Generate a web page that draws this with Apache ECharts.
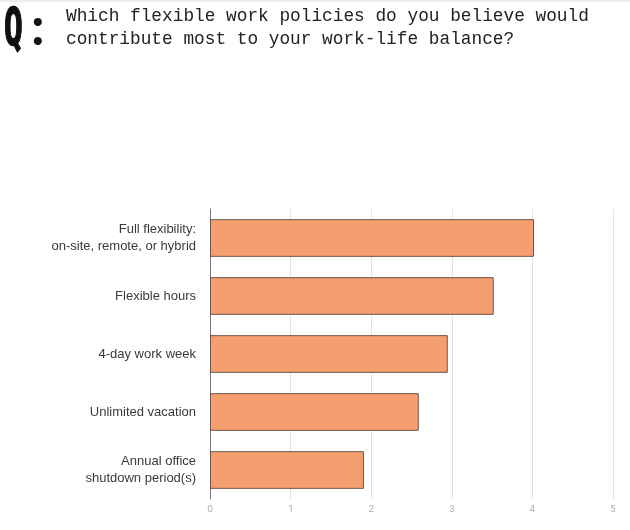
<!DOCTYPE html>
<html><head><meta charset="utf-8">
<script src="https://cdn.jsdelivr.net/npm/echarts@6/dist/echarts.min.js"></script>
<style>html,body{margin:0;padding:0;background:#fff}#c{width:630px;height:530px}</style>
</head><body><div id="c"></div>
<script>
const categories = ['Full flexibility:\non-site, remote, or hybrid', 'Flexible hours', '4-day work week', 'Unlimited vacation', 'Annual office\nshutdown period(s)'];
const values = [4.02, 3.52, 2.95, 2.59, 1.91];
const xTicks = [0, 1, 2, 3, 4, 5];
const titleLines = ['Which flexible work policies do you believe would', 'contribute most to your work-life balance?'];

const chart = echarts.init(document.getElementById('c'), null, {renderer: 'canvas'});
chart.setOption({
  animation: false,
  grid: {left: 210, right: 17, top: 209, bottom: 31, containLabel: false},
  graphic: [
    {type: 'rect', shape: {x: 0, y: 0, width: 630, height: 2}, style: {fill: '#eeeeee'}},
    {type: 'text', x: 4, y: 5, scaleX: 0.6, style: {text: 'Q', font: 'bold 52px "DejaVu Sans Mono"', fill: '#111', stroke: '#111', lineWidth: 1.5}},
    {type: 'text', x: 31, y: 1, style: {text: ':', font: 'bold 53px "Lato"', fill: '#111'}},
    {type: 'text', left: 66, top: 5, style: {text: titleLines.join('\n'), font: '17.8px "Liberation Mono"', lineHeight: 23, fill: '#222'}}
  ],
  xAxis: {
    type: 'value', min: xTicks[0], max: xTicks[xTicks.length - 1], interval: 1,
    axisLine: {show: false}, axisTick: {show: false},
    splitLine: {lineStyle: {color: '#e3e3e3', width: 1}},
    axisLabel: {color: '#aaaaaa', fontSize: 9, margin: 6, fontFamily: 'Inter'}
  },
  yAxis: {
    type: 'category', data: categories, inverse: true,
    axisLine: {show: true, lineStyle: {color: '#777', width: 1}},
    axisTick: {show: false},
    axisLabel: {color: '#3a3a3a', fontSize: 13, lineHeight: 17, margin: 14, fontFamily: 'Liberation Sans', align: 'right'}
  },
  series: [{
    type: 'bar', data: values, barCategoryGap: '35%',
    itemStyle: {color: '#F59F71', borderColor: '#6e5547', borderWidth: 1}
  }]
});
</script></body></html>
